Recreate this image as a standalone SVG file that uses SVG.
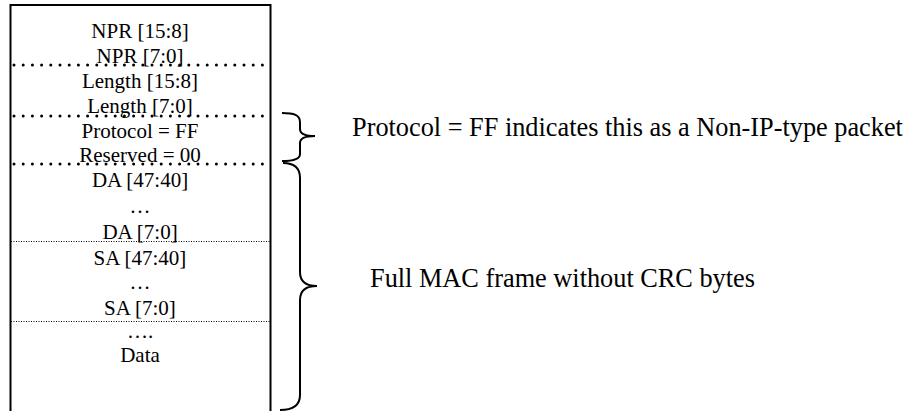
<svg xmlns="http://www.w3.org/2000/svg" width="916" height="411" viewBox="0 0 916 411">
<style>
.t{font-family:"Liberation Serif","Times New Roman",serif;font-size:21px;fill:#000;text-anchor:middle}
.r{font-family:"Liberation Serif","Times New Roman",serif;font-size:26.3px;fill:#000}
.thick{stroke:#000;stroke-width:3;stroke-linecap:round;stroke-dasharray:0 9.2;fill:none}
.thin{stroke:#000;stroke-width:1;stroke-dasharray:1 1.5;fill:none}
.brace{stroke:#000;stroke-width:2;fill:none}
</style>
<rect width="916" height="411" fill="#fff"/>
<g id="frame">
<rect x="10.5" y="5" width="260" height="420" fill="none" stroke="#000" stroke-width="2"/>
</g>
<g id="npr">
<text class="t" x="140" y="37.5">NPR [15:8]</text>
<text class="t" x="140" y="62.5">NPR [7:0]</text>
</g>
<g id="length">
<text class="t" x="140" y="87.5">Length [15:8]</text>
<text class="t" x="140" y="113">Length [7:0]</text>
</g>
<g id="protocol">
<text class="t" x="140" y="137.5">Protocol = FF</text>
<text class="t" x="140" y="162">Reserved = 00</text>
</g>
<g id="da">
<text class="t" x="140" y="187">DA [47:40]</text>
<text class="t" x="140" y="213">…</text>
<text class="t" x="140" y="239">DA [7:0]</text>
</g>
<g id="sa">
<text class="t" x="140" y="265">SA [47:40]</text>
<text class="t" x="140" y="289">…</text>
<text class="t" x="140" y="315">SA [7:0]</text>
</g>
<g id="data">
<text class="t" x="140" y="338">….</text>
<text class="t" x="140" y="362">Data</text>
</g>
<g id="connectors">
<line class="thick" x1="14" y1="65" x2="268" y2="65"/>
<line class="thick" x1="14" y1="116" x2="268" y2="116"/>
<line class="thick" x1="14" y1="164" x2="268" y2="164"/>
<line class="thin" x1="11" y1="241.5" x2="270" y2="241.5"/>
<line class="thin" x1="11" y1="321.5" x2="270" y2="321.5"/>
<path class="brace" d="M282,113 C294,113 300,115 300,122 L300,129 C300,134 305,136 315,136 C305,136 300,138 300,143 L300,154 C300,159 294,161 282,161"/>
<path class="brace" d="M283,163 C294,163 300,168 300,178 L300,272 C300,281 305,286 317,286 C305,286 300,291 300,300 L300,395 C300,405 293,410 280,410"/>
</g>
<g id="labels">
<text class="r" x="352" y="136">Protocol = FF indicates this as a Non-IP-type packet</text>
<text class="r" x="370" y="287">Full MAC frame without CRC bytes</text>
</g>
</svg>
